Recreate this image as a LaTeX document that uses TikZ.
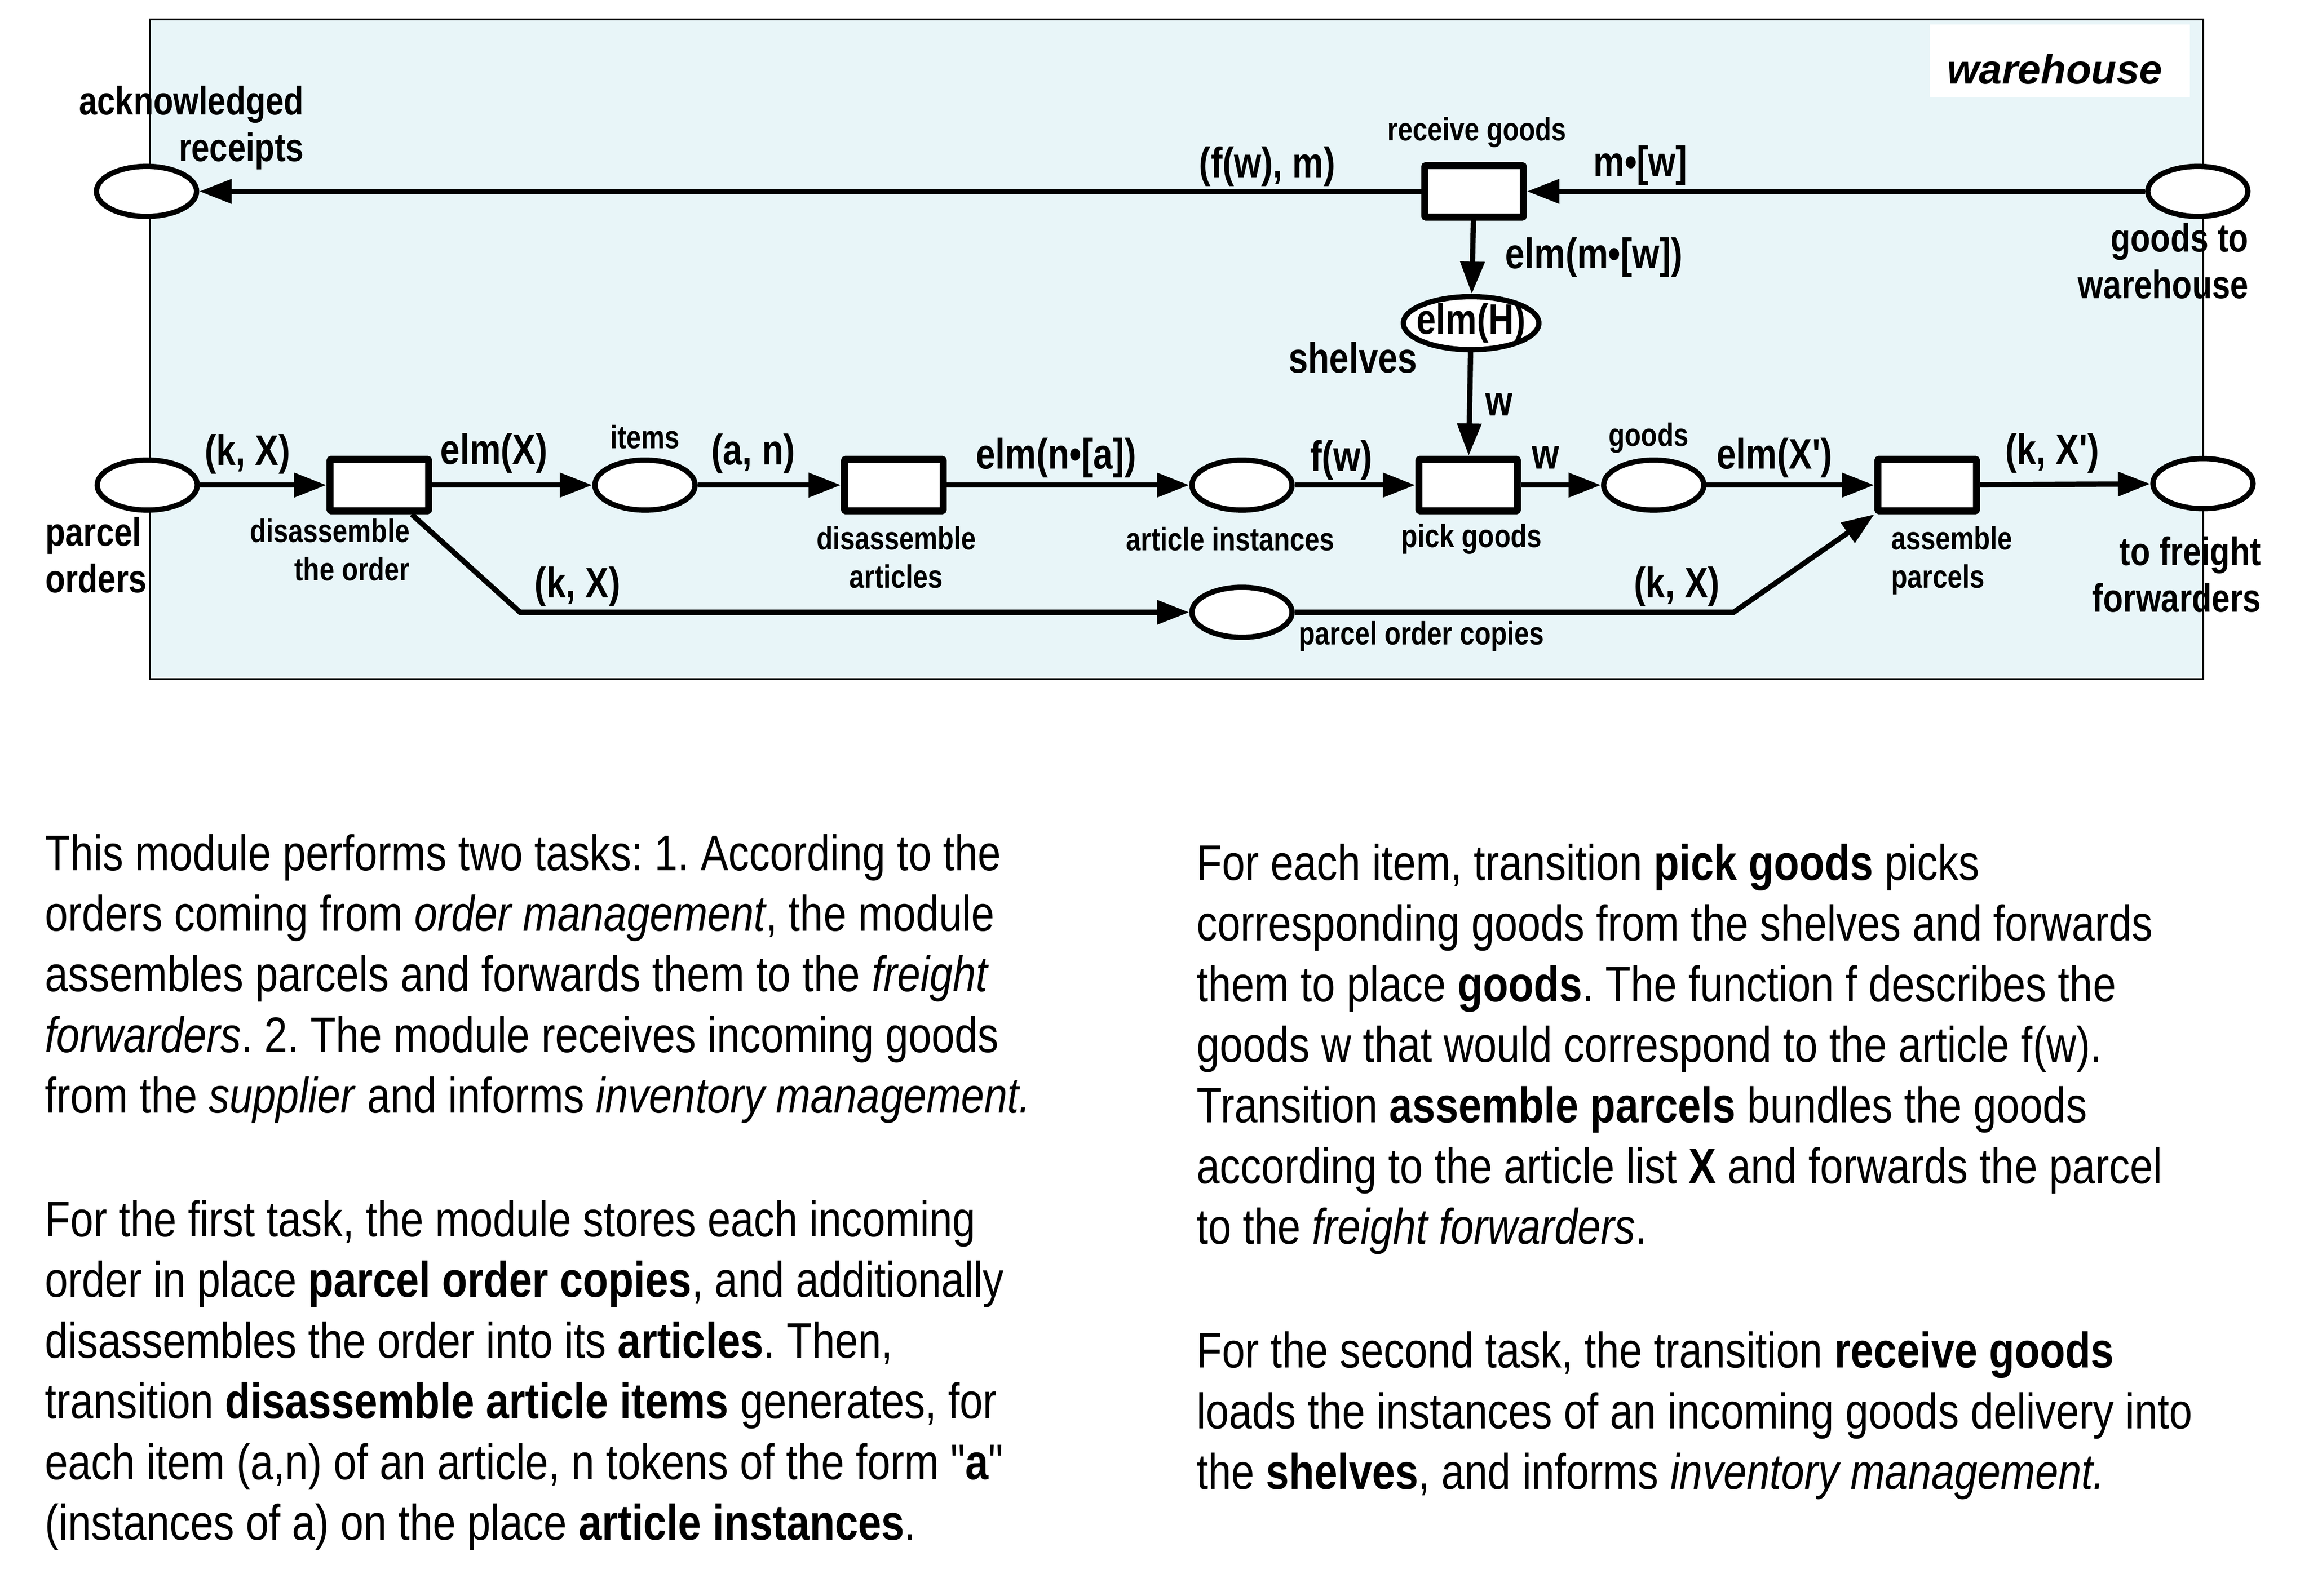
\documentclass[tikz,border=0pt]{standalone}
\usepackage{fontspec}
\usetikzlibrary{arrows.meta,shapes.geometric}
\newfontfamily\bodyfont{Liberation Sans}[FakeStretch=0.83]
\newfontfamily\lblfont{Liberation Sans}[FakeStretch=0.82]
\newfontfamily\whfont{Liberation Sans}
\definecolor{framefill}{HTML}{E8F5F8}
\frenchspacing
\begin{document}
\begin{tikzpicture}[x=1pt,y=-1pt,
  place/.style={ellipse,draw,line width=3.6pt,fill=white,minimum width=68pt,minimum height=34pt,inner sep=0pt},
  trans/.style={rectangle,draw,line width=4.8pt,fill=white,minimum width=67pt,minimum height=35pt,inner sep=0pt,rounded corners=1pt},
  arc/.style={line width=3.6pt,-{Triangle[length=22pt,width=16pt]}},
  biglbl/.style={font=\lblfont\bfseries\fontsize{29}{34}\selectfont,inner sep=0pt},
  placelbl/.style={font=\lblfont\bfseries\fontsize{27}{31.7}\selectfont,inner sep=0pt},
  smalllbl/.style={font=\lblfont\bfseries\fontsize{22}{26}\selectfont,inner sep=0pt},
  para/.style={font=\bodyfont\fontsize{34}{41.2}\selectfont\frenchspacing,inner sep=0pt,align=left,anchor=north west},
]
\useasboundingbox (0,0) rectangle (1568,1084);
% frame
\draw[fill=framefill,line width=1.3pt] (101.9,13.3) rectangle (1496.2,461.2);
\node[fill=white,minimum width=176.6pt,minimum height=49.2pt,inner sep=0pt] (whbox) at (1398.7,41.2) {};
\node[font=\whfont\bfseries\itshape\fontsize{28}{33}\selectfont,inner sep=0pt] (whtext) at (1395.3,46.8) {warehouse};

% places
\node[place] (ack) at (99.5,130) {};
\node[place] (gtw) at (1492.5,130) {};
\node[place,minimum width=92pt,minimum height=36pt] (shelves) at (999,219.5) {};
\node[place] (po) at (100,329.5) {};
\node[place] (items) at (438,329.5) {};
\node[place] (ai) at (843.4,329.5) {};
\node[place] (goods) at (1123,329.5) {};
\node[place] (ff) at (1496,328.5) {};
\node[place] (poc) at (843.4,415.9) {};

% transitions
\node[trans] (rg) at (1001,130) {};
\node[trans] (dto) at (257.6,329.5) {};
\node[trans] (da) at (607,329.5) {};
\node[trans] (pg) at (997,329.5) {};
\node[trans] (ap) at (1308.7,329.5) {};

\coordinate (c1) at (353.2,415.9);
\coordinate (c2) at (1177.2,415.9);

% arcs
\draw[arc] (rg) -- (ack);
\draw[arc] (gtw) -- (rg);
\draw[arc] (rg) -- (shelves);
\draw[arc] (shelves) -- (pg);
\draw[arc] (po) -- (dto);
\draw[arc] (dto) -- (items);
\draw[arc] (items) -- (da);
\draw[arc] (da) -- (ai);
\draw[arc] (ai) -- (pg);
\draw[arc] (pg) -- (goods);
\draw[arc] (goods) -- (ap);
\draw[arc] (ap) -- (ff);
\draw[arc] (dto) -- (c1) -- (poc);
\draw[arc] (poc) -- (c2) -- (ap.south west);

% arc labels
\node[biglbl] (l1) at (860.6,113.2) {(f(w), m)};
\node[biglbl] (l2) at (1114,112.3) {m•[w]};
\node[biglbl] (l3) at (1082.5,175) {elm(m•[w])};
\node[biglbl] (l4) at (1018,274.7) {w};
\node[biglbl] (l5) at (168.1,308.5) {(k, X)};
\node[biglbl] (l6) at (335.5,307.9) {elm(X)};
\node[biglbl] (l7) at (511.5,308) {(a, n)};
\node[biglbl] (l8) at (717.2,310.9) {elm(n•[a])};
\node[biglbl] (l9) at (910.8,312.4) {f(w)};
\node[biglbl] (l10) at (1049.6,310.9) {w};
\node[biglbl] (l11) at (1205,310.9) {elm(X')};
\node[biglbl] (l12) at (1393.6,307.9) {(k, X')};
\node[biglbl] (l13) at (392.2,398.4) {(k, X)};
\node[biglbl] (l14) at (1138.8,398.4) {(k, X)};
\node[biglbl] (hlbl) at (shelves.center) {elm(H)};

% node labels
\node[biglbl] (shelveslbl) at (918.7,243) {shelves};
\node[placelbl,align=right,anchor=east] (acklbl) at (206.5,86.75) {acknowledged\\receipts};
\node[placelbl,align=right,anchor=east] (gtwlbl) at (1527,177.35) {goods to\\warehouse};
\node[placelbl,align=left,anchor=west] (polbl) at (30.6,377) {parcel\\orders};
\node[placelbl,align=right,anchor=east] (fflbl) at (1535.5,390.2) {to freight\\forwarders};
\node[smalllbl] (rglbl) at (1003,90) {receive goods};
\node[smalllbl] (itemslbl) at (438,296.7) {items};
\node[smalllbl] (goodslbl) at (1119.5,297.3) {goods};
\node[smalllbl] (ailbl) at (835.5,366) {article instances};
\node[smalllbl] (pglbl) at (999.3,366) {pick goods};
\node[smalllbl] (poclbl) at (965.3,432.3) {parcel order copies};
\node[smalllbl,align=right,anchor=east] (dtolbl) at (278.4,373.5) {disassemble\\the order};
\node[smalllbl,align=center] (dalbl) at (608.6,378.4) {disassemble\\articles};
\node[smalllbl,align=left,anchor=west] (aplbl) at (1284.2,380.7) {assemble\\parcels};

% paragraphs
\node[para] (p1) at (30.4,562.16) {\strut This module performs two tasks: 1. According to the\\
orders coming from \textit{order management}, the module\\
assembles parcels and forwards them to the \textit{freight}\\
\textit{forwarders}. 2. The module receives incoming goods\\
from the \textit{supplier} and informs \textit{inventory management.}};
\node[para] (p2) at (30.4,810.96) {\strut For the first task, the module stores each incoming\\
order in place \textbf{parcel order copies}, and additionally\\
disassembles the order into its \textbf{articles}. Then,\\
transition \textbf{disassemble article items} generates, for\\
each item (a,n) of an article, n tokens of the form "\textbf{a}"\\
(instances of a) on the place \textbf{article instances}.};
\node[para] (p3) at (812.5,568.76) {\strut For each item, transition \textbf{pick goods} picks\\
corresponding goods from the shelves and forwards\\
them to place \textbf{goods}. The function f describes the\\
goods w that would correspond to the article f(w).\\
Transition \textbf{assemble parcels} bundles the goods\\
according to the article list \textbf{X} and forwards the parcel\\
to the \textit{freight forwarders}.};
\node[para] (p4) at (812.5,900.06) {\strut For the second task, the transition \textbf{receive goods}\\
loads the instances of an incoming goods delivery into\\
the \textbf{shelves}, and informs \textit{inventory management.}};
\end{tikzpicture}
\end{document}
